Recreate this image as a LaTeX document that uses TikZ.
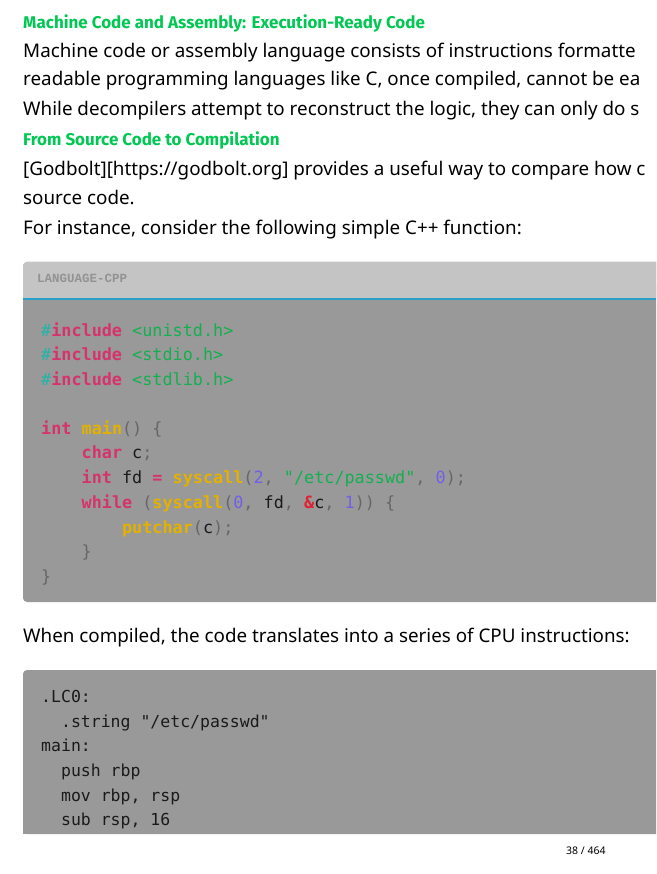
\documentclass[tikz,border=0pt]{standalone}
\usepackage{fontspec}
\setmainfont{Noto Sans}
\setmonofont{DejaVu Sans Mono}
\newfontfamily\hdrfont{Liberation Mono}
\newfontfamily\headfont{Fira Sans}
\definecolor{hgreen}{HTML}{00C853}
\definecolor{hdrbg}{HTML}{C4C4C4}
\definecolor{codebg}{HTML}{999999}
\definecolor{blueline}{HTML}{2AA0C8}
\definecolor{kteal}{HTML}{1FB5A8}
\definecolor{kmag}{HTML}{D6336C}
\definecolor{kgreen}{HTML}{12B050}
\definecolor{kyel}{HTML}{E3B100}
\definecolor{kpur}{HTML}{7060E8}
\definecolor{kred}{HTML}{E02030}
\definecolor{kgray}{HTML}{666666}
\definecolor{ktxt}{HTML}{1A1A1A}
\newcommand{\km}[1]{\textcolor{kmag}{\textbf{#1}}}
\newcommand{\ky}[1]{\textcolor{kyel}{\textbf{#1}}}
\newcommand{\kg}[1]{\textcolor{kgreen}{#1}}
\newcommand{\kp}[1]{\textcolor{kpur}{#1}}
\newcommand{\kq}[1]{\textcolor{kgray}{#1}}
\begin{document}
\begin{tikzpicture}[x=1pt,y=-1pt,
  heading/.style={anchor=base west,inner sep=0pt,font=\headfont\fontsize{17}{20}\selectfont\bfseries,text=hgreen},
  body/.style={anchor=base west,inner sep=0pt,font=\fontsize{18.8}{22}\selectfont,text=black},
  code/.style={anchor=base west,inner sep=0pt,font=\ttfamily\fontsize{16.8}{20}\selectfont,text=ktxt},
  asm/.style={anchor=base west,inner sep=0pt,font=\ttfamily\fontsize{16.5}{20}\selectfont,text=ktxt}]
\useasboundingbox (0,0) rectangle (656,874);
\begin{scope}
\clip (0,0) rectangle (656,874);
\fill[white] (0,0) rectangle (656,874);
\node[heading] (h1) at (23,29) {Machine Code and Assembly: Execution-Ready Code};
\node[body] (l1) at (23,58) {Machine code or assembly language consists of instructions formatte};
\node[body] (l2) at (23,86) {readable programming languages like C, once compiled, cannot be ea};
\node[body] (l3) at (23,116) {While decompilers attempt to reconstruct the logic, they can only do s};
\node[heading] (h2) at (23,146) {From Source Code to Compilation};
\node[body] (l4) at (23,176) {[Godbolt][https://godbolt.org] provides a useful way to compare how c};
\node[body] (l5) at (23,205) {source code.};
\node[body] (l6) at (23,235) {For instance, consider the following simple C++ function:};
% code block 1
\fill[codebg,rounded corners=4] (23,262) rectangle (680,602);
\fill[hdrbg,rounded corners=4] (23,262) rectangle (680,299);
\fill[hdrbg] (23,285) rectangle (680,299);
\draw[blueline,line width=2] (23,299) -- (656,299);
\node[anchor=base west,inner sep=0pt,font=\hdrfont\bfseries\fontsize{12.5}{14}\selectfont,text=gray!85] (hdr) at (37,282) {LANGUAGE-CPP};
\node[code] (c1) at (41,336) {\textcolor{kteal}{\#}\km{include} \kg{<unistd.h>}};
\node[code] (c2) at (41,360) {\textcolor{kteal}{\#}\km{include} \kg{<stdio.h>}};
\node[code] (c3) at (41,385) {\textcolor{kteal}{\#}\km{include} \kg{<stdlib.h>}};
\node[code] (c4) at (41,434) {\km{int} \ky{main}\kq{() \{}};
\node[code] (c5) at (41,458) {\phantom{xxxx}\km{char} c\kq{;}};
\node[code] (c6) at (41,483) {\phantom{xxxx}\km{int} fd \km{=} \ky{syscall}\kq{(}\kp{2}\kq{,} \kg{"/etc/passwd"}\kq{,} \kp{0}\kq{);}};
\node[code] (c7) at (41,508) {\phantom{xxxx}\km{while} \kq{(}\ky{syscall}\kq{(}\kp{0}\kq{,} fd\kq{,} \textcolor{kred}{\textbf{\&}}c\kq{,} \kp{1}\kq{)) \{}};
\node[code] (c8) at (41,533) {\phantom{xxxxxxxx}\ky{putchar}\kq{(}c\kq{);}};
\node[code] (c9) at (41,557) {\phantom{xxxx}\kq{\}}};
\node[code] (c10) at (41,582) {\kq{\}}};
\node[body] (l7) at (23,642) {When compiled, the code translates into a series of CPU instructions:};
% code block 2
\fill[codebg,rounded corners=4] (23,670) rectangle (680,834) ;
\fill[codebg] (23,800) rectangle (656,834);
\node[asm] (a1) at (41,702) {.LC0:};
\node[asm] (a2) at (41,727) {\phantom{xx}.string "/etc/passwd"};
\node[asm] (a3) at (41,751) {main:};
\node[asm] (a4) at (41,776) {\phantom{xx}push rbp};
\node[asm] (a5) at (41,801) {\phantom{xx}mov rbp, rsp};
\node[asm] (a6) at (41,825) {\phantom{xx}sub rsp, 16};
\node[anchor=base west,inner sep=0pt,font=\fontsize{10.5}{12}\selectfont] (pg) at (566,854) {38 / 464};
\end{scope}
\end{tikzpicture}
\end{document}
